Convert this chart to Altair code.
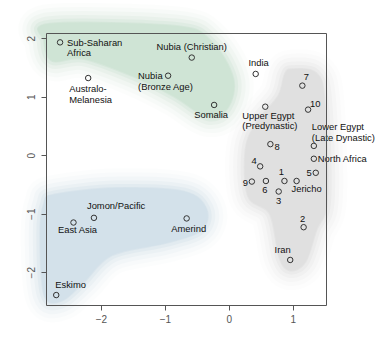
import altair as alt
import pandas as pd

# ---- data -------------------------------------------------------------
names = ["Sub-Saharan\nAfrica", "Australo-\nMelanesia", "Nubia\n(Bronze Age)",
         "Nubia (Christian)", "Somalia", "India", "7", "Upper Egypt\n(Predynastic)",
         "10", "Lower Egypt\n(Late Dynastic)", "8", "North Africa", "4", "5", "1",
         "Jericho", "9", "6", "3", "2", "Iran", "Amerind", "Jomon/Pacific",
         "East Asia", "Eskimo"]
xs = [-2.64, -2.20, -0.95, -0.58, -0.23, 0.42, 1.15, 0.57, 1.24, 1.33, 0.65, 1.33,
      0.49, 1.36, 0.87, 1.06, 0.36, 0.58, 0.78, 1.17, 0.96, -0.66, -2.11, -2.43, -2.70]
ys = [1.93, 1.32, 1.36, 1.67, 0.86, 1.39, 1.19, 0.83, 0.78, 0.16, 0.19, -0.06,
      -0.19, -0.30, -0.44, -0.44, -0.45, -0.44, -0.62, -1.23, -1.79, -1.08, -1.07,
      -1.15, -2.39]

# background group regions (outline vertices, data units)
green_x = [-2.80, -0.82, -0.28, 0.06, -0.02, -0.33, -0.85, -1.50, -2.28, -2.76, -2.88]
green_y = [2.24, 2.20, 1.94, 1.32, 0.82, 0.66, 1.01, 1.36, 1.66, 1.62, 1.96]
blue_x = [-2.72, -1.75, -0.70, -0.36, -0.44, -0.98, -1.83, -2.28, -2.62, -2.88, -2.94, -2.88]
blue_y = [-0.68, -0.57, -0.63, -0.92, -1.28, -1.49, -1.70, -2.17, -2.48, -2.38, -1.33, -0.82]
gray_x = [0.98, 1.36, 1.49, 1.53, 1.36, 1.19, 0.96, 0.80, 0.65, 0.31, 0.27, 0.44, 0.78, 0.88]
gray_y = [1.46, 1.40, 0.92, -0.76, -1.28, -1.82, -1.96, -1.75, -1.00, -0.70, 0.09, 0.55, 1.01, 1.37]

x_ticks = [-2, -1, 0, 1]
y_ticks = [-2, -1, 0, 1, 2]

# ---- label placement (pixels) -----------------------------------------
label_align = ["left", "left", "left", "center", "center", "center", "center", "left",
               "left", "left", "left", "left", "center", "right", "center", "center",
               "right", "center", "center", "center", "center", "center", "left",
               "center", "left"]
label_dx = [7, -19, -30, 0, -3, 3, 4, -23, 2, -2, 4, 4, -6, -4, -3, 10, -4, -1, 0,
            -1, -7.5, 2, -7, 4, -1]
label_dy = [0, 11, 0, -11, 10, -11, -9, 8.5, -6, -19, 3, 0, -6, 0, -9, 8, 1, 9, 9,
            -9, -10, 10, -12, 7, -10]

pts = pd.DataFrame({"name": names, "x": xs, "y": ys})

blob_rows = []
for g, bx, by in [("green", green_x, green_y), ("blue", blue_x, blue_y), ("gray", gray_x, gray_y)]:
    for i, (a, b) in enumerate(zip(bx, by)):
        blob_rows.append({"group": g, "order": i, "bx": a, "by": b})
blobs = pd.DataFrame(blob_rows)

blob_colors = {"green": "#cfe4d5", "blue": "#d3e1ea", "gray": "#e0e0e0"}

XD = [-2.86, 1.52]
YD = [-2.56, 2.09]
xscale = alt.Scale(domain=XD, nice=False, zero=False)
yscale = alt.Scale(domain=YD, nice=False, zero=False)

AX_COLOR = "#555555"
FONT = "Liberation Sans"

layers = []
glow = [(40, 0.06), (32, 0.09), (24, 0.14), (16, 0.22), (9, 0.35), (3, 0.6), (1, 1.0)]
for g, col in blob_colors.items():
    for w, op in glow:
        layers.append(
            alt.Chart(blobs).transform_filter(alt.datum.group == g).mark_line(
                interpolate="cardinal-closed", fill=col, stroke=col, strokeWidth=w,
                opacity=op, strokeJoin="round", clip=False
            ).encode(
                x=alt.X("bx:Q", scale=xscale, axis=None),
                y=alt.Y("by:Q", scale=yscale, axis=None),
                order="order:Q",
            )
        )

points = alt.Chart(pts).mark_point(
    shape="circle", filled=False, size=30, color="#333333", strokeWidth=1, opacity=1
).encode(
    x=alt.X("x:Q", scale=xscale,
            axis=alt.Axis(orient="bottom", values=x_ticks, title=None, grid=False,
                          domain=True, domainColor=AX_COLOR, ticks=True, tickSize=5,
                          tickColor=AX_COLOR, labelColor=AX_COLOR, labelFontSize=10,
                          labelPadding=4, zindex=2, labelFont=FONT)),
    y=alt.Y("y:Q", scale=yscale,
            axis=alt.Axis(orient="left", values=y_ticks, title=None, grid=False,
                          domain=True, domainColor=AX_COLOR, ticks=True, tickSize=5,
                          tickColor=AX_COLOR, labelColor=AX_COLOR, labelFontSize=10,
                          labelAngle=-90, labelAlign="center", labelBaseline="bottom",
                          labelPadding=5, zindex=2, labelFont=FONT)),
)

frame = alt.Chart(pts).mark_point(opacity=0).encode(
    x=alt.X("x:Q", scale=xscale,
            axis=alt.Axis(orient="top", labels=False, ticks=False, title=None,
                          grid=False, domain=True, domainColor=AX_COLOR, zindex=2)),
    y=alt.Y("y:Q", scale=yscale,
            axis=alt.Axis(orient="right", labels=False, ticks=False, title=None,
                          grid=False, domain=True, domainColor=AX_COLOR, zindex=2)),
)

for i, nm in enumerate(names):
    layers.append(
        alt.Chart(pts).transform_filter(alt.datum.name == nm).mark_text(
            align=label_align[i], dx=label_dx[i], dy=label_dy[i] + 3.3,
            baseline="alphabetic", fontSize=9.4, font=FONT,
            color="#111111", lineBreak="\n", lineHeight=10.5
        ).encode(
            x=alt.X("x:Q", scale=xscale, axis=None),
            y=alt.Y("y:Q", scale=yscale, axis=None),
            text="name:N",
        )
    )

chart = alt.layer(*layers, points, frame).resolve_axis(
    x="independent", y="independent"
).properties(
    width=280, height=272,
    autosize=alt.AutoSizeParams(type="none"),
    padding={"left": 46, "top": 33, "right": 57, "bottom": 47},
    background="white",
).configure_view(stroke=None)

chart.save("out.html", embed_options={"renderer": "svg", "actions": False})
